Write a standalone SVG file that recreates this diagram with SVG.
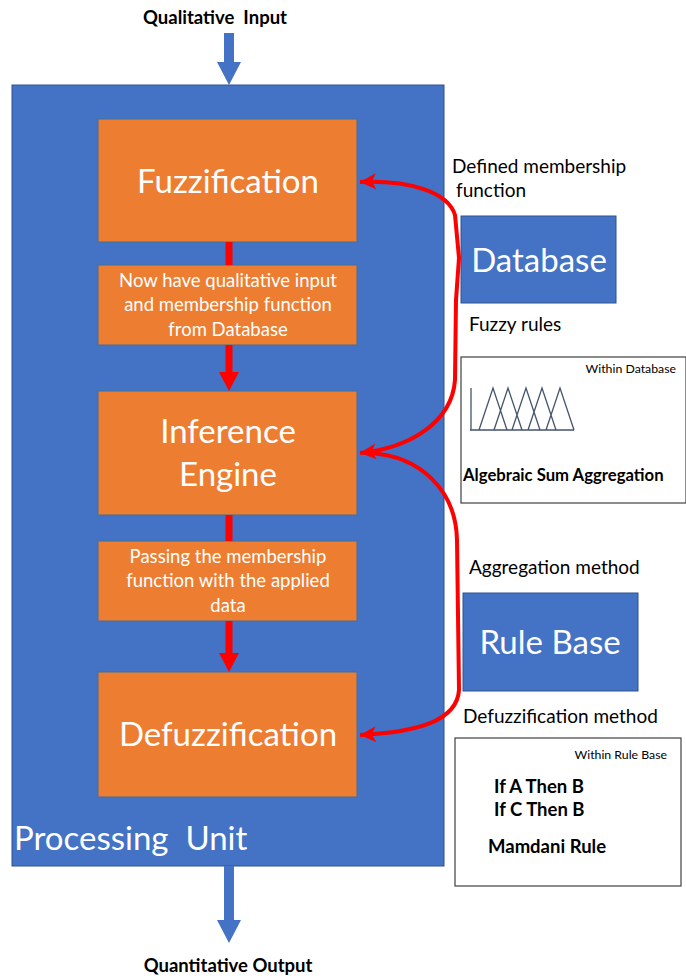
<svg xmlns="http://www.w3.org/2000/svg" width="686" height="979" viewBox="0 0 686 979">
<style>
text{white-space:pre}
.blue{fill:#4472C4;stroke:#2F528F;stroke-width:1}
.org{fill:#ED7D31;stroke:#41719C;stroke-width:1}
.wbox{fill:#fff;stroke:#404040;stroke-width:1.2}
.big{font-family:Lato,"Liberation Sans",sans-serif;font-size:33px;fill:#fff;text-anchor:middle}
.mid{font-family:Lato,"Liberation Sans",sans-serif;font-size:18.5px;fill:#fff;text-anchor:middle}
.lbl{font-family:Lato,"Liberation Sans",sans-serif;font-size:19px;fill:#000}
.bold{font-family:Lato,"Liberation Sans",sans-serif;font-weight:bold;fill:#000}
.small{font-family:Lato,"Liberation Sans",sans-serif;font-size:12.3px;fill:#000;text-anchor:end}
.red{fill:none;stroke:#FF0000;stroke-width:4}
.tri{fill:none;stroke:#44546A;stroke-width:1.3}
</style>
<defs>
<marker id="rh" markerUnits="userSpaceOnUse" markerWidth="18" markerHeight="18" refX="16" refY="8" orient="auto-start-reverse" viewBox="0 0 18 16">
<path d="M0,0 L16,8 L0,16 L4,8 Z" fill="#FF0000"/>
</marker>
</defs>
<g id="input">
<text class="bold" x="215" y="24" font-size="18.5" text-anchor="middle" xml:space="preserve">Qualitative  Input</text>
<path d="M224,33 L234,33 L234,62 L241,62 L229,85 L217,62 L224,62 Z" fill="#4472C4"/>
</g>
<g id="processing-unit">
<rect class="blue" x="12" y="85" width="432" height="781"/>
<text class="big" x="14" y="850" style="text-anchor:start" xml:space="preserve">Processing  Unit</text>
</g>
<g id="fuzzification">
<rect class="org" x="98" y="119" width="259" height="123"/>
<text class="big" x="228" y="193">Fuzzification</text>
</g>
<g id="note1">
<rect class="org" x="98" y="265" width="259" height="80"/>
<text class="mid" x="228" y="287">Now have qualitative input</text>
<text class="mid" x="228" y="311">and membership function</text>
<text class="mid" x="228" y="336">from Database</text>
</g>
<g id="inference-engine">
<rect class="org" x="98" y="391" width="259" height="124"/>
<text class="big" x="228" y="443">Inference</text>
<text class="big" x="228" y="486">Engine</text>
</g>
<g id="note2">
<rect class="org" x="98" y="541" width="259" height="80"/>
<text class="mid" x="228" y="563">Passing the membership</text>
<text class="mid" x="228" y="587">function with the applied</text>
<text class="mid" x="228" y="612">data</text>
</g>
<g id="defuzzification">
<rect class="org" x="98" y="672" width="259" height="125"/>
<text class="big" x="228" y="746">Defuzzification</text>
</g>
<g id="output">
<path d="M224,866 L234,866 L234,920 L241,920 L229,943 L217,920 L224,920 Z" fill="#4472C4"/>
<text class="bold" x="228" y="972" font-size="18.5" text-anchor="middle">Quantitative Output</text>
</g>
<g id="database">
<rect class="blue" x="461" y="216" width="155" height="87"/>
<text class="big" x="539" y="272">Database</text>
</g>
<g id="within-database">
<rect class="wbox" x="461" y="357" width="225" height="146"/>
<text class="small" x="676" y="373">Within Database</text>
<path class="tri" d="M471,388 L471,430 M470,430 L574,430 M479,430 L493,388 L507,430 M494,430 L508,388 L522,430 M512,430 L526,388 L540,430 M528,430 L542,388 L556,430 M546,430 L560,388 L574,430"/>
<text class="bold" x="463" y="481" font-size="16.7">Algebraic Sum Aggregation</text>
</g>
<g id="rule-base">
<rect class="blue" x="463" y="593" width="175" height="98"/>
<text class="big" x="550" y="654">Rule Base</text>
</g>
<g id="within-rule-base">
<rect class="wbox" x="455" y="738" width="226" height="148"/>
<text class="small" x="667" y="759">Within Rule Base</text>
<text class="bold" x="494" y="793" font-size="18.5">If A Then B</text>
<text class="bold" x="494" y="816" font-size="18.5">If C Then B</text>
<text class="bold" x="488" y="853" font-size="18.5">Mamdani Rule</text>
</g>
<g id="labels">
<text class="lbl" x="452" y="173">Defined membership</text>
<text class="lbl" x="456" y="197">function</text>
<text class="lbl" x="469" y="331">Fuzzy rules</text>
<text class="lbl" x="469" y="574">Aggregation method</text>
<text class="lbl" x="463" y="723">Defuzzification method</text>
</g>
<g id="connectors">
<path d="M225.5,242 L232.5,242 L232.5,265 L225.5,265 Z" fill="#FF0000"/>
<path d="M225.5,345 L232.5,345 L232.5,372 L239,372 L229,391 L219,372 L225.5,372 Z" fill="#FF0000"/>
<path d="M225.5,515 L232.5,515 L232.5,541 L225.5,541 Z" fill="#FF0000"/>
<path d="M225.5,621 L232.5,621 L232.5,653 L239,653 L229,672 L219,653 L225.5,653 Z" fill="#FF0000"/>
<path class="red" marker-start="url(#rh)" marker-end="url(#rh)" d="M360,182 C410,180 448,192 455,215 L459,258 L456,300 L455,380 C452,422 410,448 360,453"/>
<path class="red" marker-end="url(#rh)" d="M370,453 C420,456 456,490 457,540 L459,690 C457,720 420,732 360,735"/>
</g>
</svg>
